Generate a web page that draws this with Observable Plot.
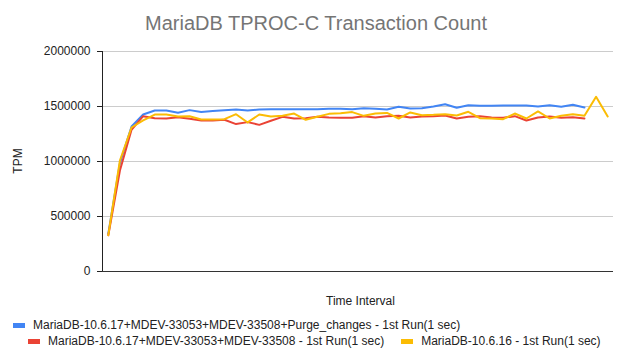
<!DOCTYPE html>
<html>
<head>
<meta charset="utf-8">
<script src="https://cdn.jsdelivr.net/npm/d3@7"></script>
<script src="https://cdn.jsdelivr.net/npm/@observablehq/plot@0.6"></script>
<style>
  html, body { margin: 0; padding: 0; background: #fff; }
  #wrap { position: relative; width: 624px; height: 357px; font-family: Arial, "Liberation Sans", sans-serif; overflow: hidden; }
  #wrap svg { position: absolute; left: 0; top: 0; }
  .abs { position: absolute; white-space: nowrap; line-height: 1; }
  #title { left: 0; width: 632px; top: 13px; text-align: center; font-size: 20px; color: #757575; }
  #xlabel { left: 105px; width: 511px; top: 295px; text-align: center; font-size: 12px; color: #222; }
  #ylabel { left: 18px; top: 161px; font-size: 12px; color: #222; transform: translate(-50%, -50%) rotate(-90deg); }
  .leg { font-size: 12px; color: #222; display: flex; align-items: center; }
  .sw { display: inline-block; width: 12px; height: 5px; margin-right: 8px; }
</style>
</head>
<body>
<div id="wrap">
  <div id="title" class="abs">MariaDB TPROC-C Transaction Count</div>
  <div id="xlabel" class="abs">Time Interval</div>
  <div id="ylabel" class="abs">TPM</div>
  <div id="leg1" class="abs leg" style="left:13px; top:319px;"></div>
  <div id="leg2" class="abs leg" style="left:28px; top:335px;"></div>
</div>
<script>
const seriesNames = [
  "MariaDB-10.6.17+MDEV-33053+MDEV-33508+Purge_changes - 1st Run(1 sec)",
  "MariaDB-10.6.17+MDEV-33053+MDEV-33508 - 1st Run(1 sec)",
  "MariaDB-10.6.16 - 1st Run(1 sec)"
];
const seriesColors = ["#4285F4", "#EA4335", "#FBBC04"];
const yTicks = [0, 500000, 1000000, 1500000, 2000000];
const intervalCount = 44;

const purgeChanges = [343000, 985000, 1318000, 1427000, 1464000, 1464000, 1443000, 1467000, 1449000, 1458000,
  1467000, 1473000, 1464000, 1473000, 1476000, 1476000, 1476000, 1476000, 1476000, 1479000,
  1479000, 1476000, 1485000, 1479000, 1473000, 1497000, 1482000, 1485000, 1500000, 1521000,
  1488000, 1512000, 1506000, 1506000, 1509000, 1509000, 1509000, 1500000, 1512000, 1497000,
  1515000, 1491000];
const mdevOnly = [330000, 918000, 1288000, 1412000, 1394000, 1391000, 1403000, 1388000, 1373000, 1373000,
  1379000, 1340000, 1358000, 1333000, 1370000, 1406000, 1391000, 1394000, 1406000, 1400000,
  1397000, 1397000, 1412000, 1400000, 1412000, 1415000, 1400000, 1409000, 1412000, 1418000,
  1391000, 1406000, 1412000, 1400000, 1397000, 1412000, 1373000, 1400000, 1409000, 1397000,
  1403000, 1391000];
const baseline1016 = [330000, 1009000, 1309000, 1373000, 1427000, 1427000, 1409000, 1412000, 1382000, 1382000,
  1385000, 1430000, 1355000, 1427000, 1409000, 1415000, 1436000, 1379000, 1406000, 1433000,
  1439000, 1449000, 1415000, 1436000, 1442000, 1391000, 1446000, 1421000, 1424000, 1430000,
  1418000, 1452000, 1394000, 1391000, 1385000, 1436000, 1391000, 1455000, 1391000, 1415000,
  1430000, 1415000, 1588000, 1409000];

const allSeries = [purgeChanges, mdevOnly, baseline1016];
const rows = allSeries.map((vals, s) => vals.map((v, i) => ({i, v, s})));

const xDomain = [-0.5, intervalCount - 0.5];

const chart = Plot.plot({
  width: 624,
  height: 357,
  marginTop: 51,
  marginBottom: 86,
  marginLeft: 102,
  marginRight: 11,
  style: {fontFamily: "Arial, 'Liberation Sans', sans-serif", background: "transparent"},
  x: {domain: xDomain, axis: null},
  y: {domain: [0, 2000000], axis: null},
  marks: [
    Plot.gridY(yTicks, {stroke: "#cccccc", strokeOpacity: 1}),
    Plot.axisY(yTicks, {tickSize: 5, tickPadding: 7, fontSize: 12, tickFormat: d => String(d), stroke: "#222", fill: "#222", label: null}),
    Plot.ruleX([xDomain[0]], {stroke: "#222"}),
    Plot.ruleY([0], {stroke: "#333"}),
    ...rows.map((r, s) => Plot.line(r, {x: "i", y: "v", stroke: seriesColors[s], strokeWidth: 2, curve: "linear"}))
  ]
});
document.getElementById("wrap").prepend(chart);

function legendItem(s) {
  const span = document.createElement("span");
  span.style.display = "inline-flex";
  span.style.alignItems = "center";
  const sw = document.createElement("span");
  sw.className = "sw";
  sw.style.background = seriesColors[s];
  span.appendChild(sw);
  span.appendChild(document.createTextNode(seriesNames[s]));
  return span;
}
document.getElementById("leg1").appendChild(legendItem(0));
const l2 = document.getElementById("leg2");
const a = legendItem(1); a.style.marginRight = "17px";
l2.appendChild(a);
l2.appendChild(legendItem(2));
</script>
</body>
</html>
